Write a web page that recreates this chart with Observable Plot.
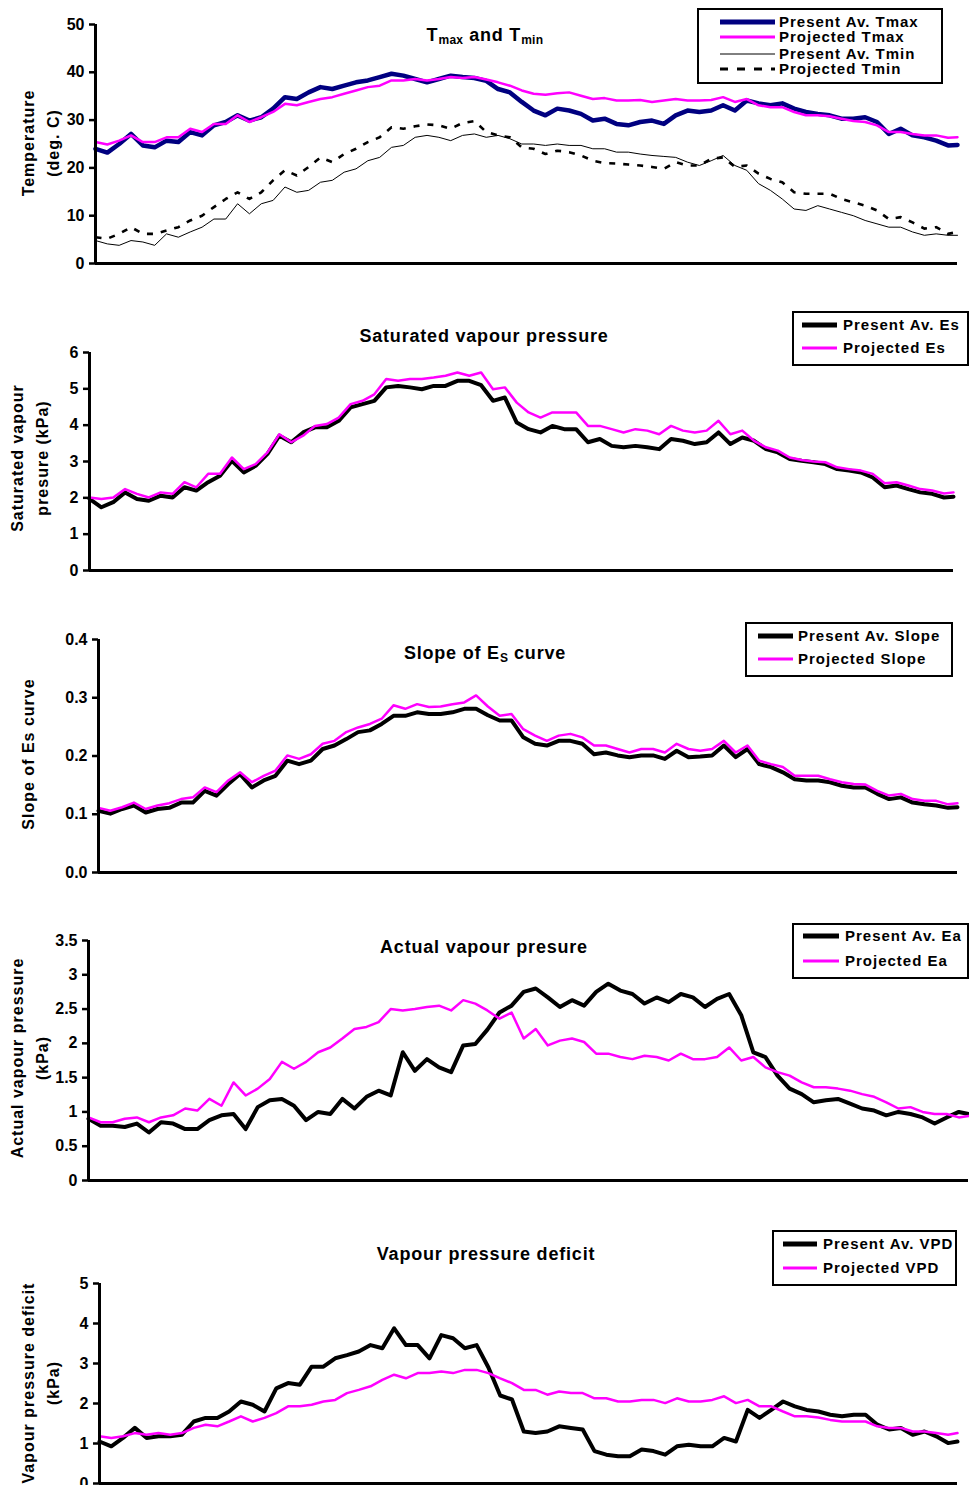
<!DOCTYPE html>
<html><head><meta charset="utf-8">
<script src="https://cdn.jsdelivr.net/npm/d3@7"></script>
<script src="https://cdn.jsdelivr.net/npm/@observablehq/plot@0.6"></script>
<style>
html,body{margin:0;padding:0;background:#fff;overflow:hidden;}
body{font-family:"Liberation Sans",Arial,sans-serif;color:#000;}
#root{position:relative;width:969px;height:1485px;overflow:hidden;}
.title{position:absolute;font-weight:bold;font-size:18px;letter-spacing:0.8px;line-height:22px;transform:translateX(-50%);white-space:nowrap;}
.title sub{font-size:12px;vertical-align:-3px;letter-spacing:0.3px;}
.ylab{position:absolute;font-weight:bold;font-size:16px;letter-spacing:1px;line-height:25px;text-align:center;white-space:nowrap;transform:translate(-50%,-50%) rotate(-90deg);}
.legend{position:absolute;border:2px solid #000;background:#fff;box-sizing:border-box;}
.legend .lab{position:absolute;font-weight:bold;font-size:15px;letter-spacing:1px;line-height:16px;white-space:nowrap;transform:translateY(-50%);}
.legend svg{position:absolute;overflow:visible;}
g[aria-label="y-axis tick"] path, g[aria-label="y-axis"] line{stroke-width:2.5px;}
</style></head><body><div id="root"></div>
<script>
// day of year for each reading
const days = [1,6,11,16,21,26,31,36,41,46,51,56,61,66,71,76,81,86,91,96,101,106,111,116,121,126,131,136,141,146,151,156,161,166,171,176,181,186,191,196,201,206,211,216,221,226,231,236,241,246,251,256,261,266,271,276,281,286,291,296,301,306,311,316,321,326,331,336,341,346,351,356,361,365];

// Panel 1: temperature (deg C)
const tmaxPresent = [24.0,23.2,25.0,27.1,24.7,24.3,25.7,25.4,27.5,26.8, 28.9,29.6,31.0,29.9,30.6,32.4,34.8,34.4,35.8,36.9, 36.5,37.2,37.9,38.3,39.0,39.7,39.3,38.6,37.9,38.6, 39.3,39.0,38.8,38.2,36.5,35.8,33.8,32.0,31.0,32.4, 32.0,31.3,29.9,30.3,29.2,28.9,29.6,29.9,29.2,31.0, 32.0,31.7,32.0,33.1,32.0,34.1,33.5,33.1,33.5,32.4, 31.7,31.3,31.0,30.3,30.3,30.6,29.6,27.1,28.2,26.8, 26.4,25.7,24.7,24.8];
const tmaxProjected = [25.4,24.9,25.7,26.8,25.4,25.4,26.4,26.4,28.2,27.5, 29.2,29.2,31.0,29.6,30.6,31.7,33.4,33.1,33.8,34.4, 34.8,35.5,36.2,36.9,37.2,38.3,38.3,38.6,38.3,38.6, 39.0,38.8,39.0,38.5,37.9,37.2,36.2,35.5,35.3,35.6, 35.8,35.1,34.4,34.6,34.1,34.1,34.2,33.8,34.1,34.4, 34.1,34.1,34.2,34.8,33.8,34.4,33.1,32.7,32.7,31.7, 31.0,31.0,30.8,30.3,29.8,29.6,28.9,27.5,27.5,27.1, 26.8,26.8,26.3,26.4];
const tminPresent = [4.8,4.1,3.8,4.8,4.5,3.8,6.2,5.5,6.6,7.6, 9.3,9.3,12.5,10.4,12.5,13.2,16.0,14.9,15.3,17.0, 17.4,19.1,19.8,21.5,22.2,24.3,24.7,26.4,26.8,26.4, 25.7,26.8,27.1,26.4,26.8,26.1,25.0,25.0,24.7,25.0, 24.7,24.7,24.0,24.0,23.3,23.3,22.9,22.6,22.4,22.2, 21.2,20.5,21.5,22.6,20.5,19.5,16.7,15.3,13.5,11.4, 11.1,12.1,11.4,10.7,10.0,9.0,8.3,7.6,7.6,6.6, 5.9,6.2,5.9,5.9];
const tminProjected = [5.5,5.2,6.2,7.6,6.2,6.2,6.9,7.6,9.0,10.0, 11.8,13.5,14.9,13.5,14.9,17.4,19.5,18.4,20.2,22.2, 21.2,22.9,24.0,25.4,26.4,28.5,28.2,28.7,29.1,28.9, 28.2,29.4,29.8,27.5,26.8,26.4,24.3,24.0,22.9,23.6, 23.3,22.6,21.5,21.0,20.9,20.7,20.5,20.2,19.8,21.2, 20.5,20.5,21.9,22.2,20.2,20.5,18.8,17.7,17.0,14.9, 14.6,14.6,14.6,13.5,12.8,12.1,11.1,9.3,9.7,8.6, 7.3,7.6,6.2,6.6];

// Panel 2: saturated vapour pressure (kPa)
const esPresent = [1.97,1.74,1.88,2.15,1.97,1.92,2.06,2.01,2.29,2.20, 2.43,2.61,3.02,2.70,2.88,3.21,3.71,3.53,3.80,3.94, 3.94,4.12,4.49,4.58,4.67,5.04,5.08,5.04,4.99,5.08, 5.08,5.22,5.22,5.10,4.67,4.76,4.07,3.89,3.80,3.98, 3.89,3.89,3.53,3.62,3.43,3.39,3.43,3.39,3.34,3.62, 3.57,3.48,3.53,3.80,3.48,3.66,3.57,3.34,3.25,3.07, 3.02,2.98,2.93,2.79,2.75,2.70,2.56,2.29,2.34,2.24, 2.15,2.11,2.01,2.03];
const esProjected = [2.01,1.97,2.01,2.24,2.11,2.01,2.15,2.11,2.43,2.29, 2.66,2.66,3.11,2.79,2.93,3.25,3.75,3.53,3.71,3.98, 4.03,4.21,4.58,4.67,4.85,5.27,5.22,5.27,5.27,5.31, 5.36,5.45,5.36,5.45,4.99,5.04,4.62,4.35,4.21,4.35, 4.35,4.35,3.98,3.98,3.89,3.80,3.89,3.85,3.75,3.98, 3.85,3.80,3.85,4.12,3.75,3.85,3.57,3.39,3.30,3.11, 3.04,3.00,2.98,2.84,2.79,2.75,2.66,2.40,2.43,2.34, 2.24,2.20,2.12,2.15];

// Panel 3: slope of Es curve
const slopePresent = [.106,.101,.109,.115,.103,.109,.111,.120,.120,.140, .132,.152,.169,.146,.158,.166,.192,.186,.192,.212, .218,.229,.241,.244,.255,.269,.269,.275,.272,.272, .275,.281,.281,.270,.261,.261,.232,.221,.218,.226, .226,.221,.203,.206,.201,.198,.201,.201,.195,.209, .198,.199,.201,.218,.198,.212,.186,.181,.172,.160, .158,.158,.155,.149,.146,.146,.135,.126,.129,.120, .117,.115,.111,.112];
const slopeProjected = [.111,.106,.112,.120,.109,.115,.119,.126,.129,.146, .138,.158,.172,.155,.166,.175,.201,.195,.203,.221, .226,.241,.249,.255,.264,.287,.281,.289,.284,.285, .289,.292,.304,.285,.269,.272,.246,.235,.226,.235, .238,.232,.218,.218,.212,.206,.212,.212,.206,.221, .212,.209,.212,.226,.206,.218,.192,.186,.181,.166, .166,.166,.160,.155,.152,.151,.140,.132,.135,.126, .123,.123,.117,.119];

// Panel 4: actual vapour pressure (kPa)
const eaPresent = [0.90,0.80,0.80,0.78,0.83,0.70,0.85,0.83,0.75,0.75, 0.88,0.95,0.97,0.75,1.07,1.17,1.19,1.09,0.88,1.00, 0.97,1.19,1.05,1.22,1.31,1.24,1.87,1.60,1.77,1.65, 1.58,1.97,1.99,2.20,2.45,2.55,2.75,2.80,2.67,2.53, 2.63,2.55,2.75,2.87,2.77,2.72,2.58,2.67,2.60,2.72, 2.67,2.53,2.65,2.72,2.41,1.87,1.80,1.53,1.34,1.26, 1.14,1.17,1.19,1.12,1.05,1.02,0.95,1.00,0.97,0.92, 0.83,0.92,1.00,0.97];
const eaProjected = [0.92,0.85,0.85,0.90,0.92,0.85,0.92,0.95,1.05,1.02, 1.19,1.09,1.43,1.24,1.34,1.48,1.73,1.63,1.73,1.87, 1.94,2.07,2.21,2.24,2.31,2.50,2.48,2.50,2.53,2.55, 2.48,2.63,2.58,2.48,2.36,2.45,2.07,2.21,1.97,2.04, 2.07,2.02,1.85,1.85,1.80,1.77,1.82,1.80,1.75,1.85, 1.77,1.77,1.80,1.94,1.75,1.80,1.65,1.58,1.53,1.43, 1.36,1.36,1.34,1.31,1.26,1.22,1.14,1.05,1.07,1.00, 0.97,0.97,0.92,0.94];

// Panel 5: vapour pressure deficit (kPa)
const vpdPresent = [1.05,0.93,1.14,1.39,1.14,1.18,1.18,1.22,1.55,1.64, 1.64,1.80,2.05,1.97,1.80,2.38,2.51,2.47,2.92,2.92, 3.13,3.21,3.30,3.46,3.38,3.88,3.46,3.46,3.13,3.71, 3.63,3.38,3.46,2.90,2.20,2.10,1.30,1.26,1.30,1.43, 1.39,1.35,0.81,0.72,0.68,0.68,0.85,0.81,0.72,0.93, 0.97,0.93,0.93,1.14,1.05,1.84,1.64,1.84,2.05,1.93, 1.84,1.80,1.72,1.68,1.72,1.72,1.47,1.35,1.39,1.22, 1.30,1.18,1.01,1.05];
const vpdProjected = [1.18,1.14,1.18,1.26,1.22,1.26,1.22,1.26,1.39,1.47, 1.43,1.55,1.68,1.55,1.64,1.76,1.93,1.93,1.97,2.05, 2.09,2.26,2.34,2.43,2.59,2.72,2.63,2.76,2.76,2.80, 2.76,2.84,2.84,2.76,2.63,2.51,2.34,2.34,2.22,2.30, 2.26,2.26,2.13,2.13,2.05,2.05,2.09,2.09,2.01,2.13, 2.05,2.05,2.09,2.18,2.01,2.09,1.93,1.93,1.80,1.68, 1.68,1.65,1.59,1.55,1.55,1.55,1.43,1.39,1.39,1.30, 1.30,1.26,1.22,1.26];

// Tick values
const tempTicks = [0,10,20,30,40,50];
const esTicks = [0,1,2,3,4,5,6];
const slopeTicks = [0,0.1,0.2,0.3,0.4];
const eaTicks = [0,0.5,1,1.5,2,2.5,3,3.5];
const vpdTicks = [0,1,2,3,4,5];

// Labels
const titles = ["T<sub>max</sub> and T<sub>min</sub>", "Saturated vapour pressure", "Slope of E<sub>S</sub> curve", "Actual vapour presure", "Vapour pressure deficit"];
const yLabels = [["Temperature","(deg. C)"],["Saturated vapour","presure (kPa)"],["Slope of Es curve"],["Actual vapour pressure","(kPa)"],["Vapour pressure deficit","(kPa)"]];
const legendLabels = [["Present Av. Tmax","Projected Tmax","Present Av. Tmin","Projected Tmin"],["Present Av. Es","Projected  Es"],["Present Av. Slope","Projected Slope"],["Present Av. Ea","Projected Ea"],["Present Av. VPD","Projected VPD"]];

const root = document.getElementById("root");
const NAVY = "#000080", MAG = "#ff00ff", BLK = "#000000";

function rows(vals){ return days.map((d,i)=>({day:d, v:vals[i]})); }

function addPanel(cfg){
  const mt = 10, mb = 8;
  const h = cfg.yBot - cfg.yTop + mt + mb;
  const marks = cfg.series.map(s => Plot.line(rows(s.values), {
    x:"day", y:"v", stroke:s.color, strokeWidth:s.width,
    strokeDasharray:s.dash, strokeLinejoin:"round", strokeLinecap: s.dash ? "butt" : "round"
  }));
  marks.push(Plot.ruleY([cfg.ticks[0]], {strokeWidth:3}));
  marks.push(Plot.ruleX([days[0]], {strokeWidth:3}));
  const svg = Plot.plot({
    width:969, height:h,
    marginLeft:cfg.xL, marginRight:969-cfg.xR, marginTop:mt, marginBottom:mb,
    x:{domain:[days[0], days[days.length-1]], axis:null},
    y:{domain:[cfg.ticks[0], cfg.ticks[cfg.ticks.length-1]], ticks:cfg.ticks, tickFormat:cfg.fmt, label:null, tickSize:6, tickPadding:5},
    style:{fontFamily:"Liberation Sans, Arial, sans-serif", fontSize:"16px", fontWeight:"bold", color:"#000", background:"transparent", overflow:"visible"},
    marks
  });
  svg.style.position = "absolute";
  svg.style.left = "0px";
  svg.style.top = (cfg.yTop - mt) + "px";
  root.appendChild(svg);
}

function addTitle(html, cx, cy){
  const d = document.createElement("div");
  d.className = "title"; d.innerHTML = html;
  d.style.left = cx + "px"; d.style.top = (cy - 11) + "px";
  root.appendChild(d);
}
function addYLabel(lines, cx, cy){
  const d = document.createElement("div");
  d.className = "ylab"; d.innerHTML = lines.join("<br>");
  d.style.left = cx + "px"; d.style.top = cy + "px";
  root.appendChild(d);
}
function addLegend(cfg){
  const b = document.createElement("div");
  b.className = "legend";
  Object.assign(b.style, {left:cfg.left+"px", top:cfg.top+"px", width:cfg.w+"px", height:cfg.h+"px"});
  cfg.items.forEach((it, i) => {
    const y = cfg.rowsY[i];
    const len = cfg.swX2 - cfg.swX1;
    const sv = `<svg style="left:${cfg.swX1}px;top:${y-5}px" width="${len}" height="10"><line x1="0" y1="5" x2="${len}" y2="5" stroke="${it.color}" stroke-width="${it.width}" ${it.dash ? `stroke-dasharray="${it.dash}"` : ""}/></svg>`;
    b.insertAdjacentHTML("beforeend", sv + `<div class="lab" style="left:${cfg.textX}px;top:${y}px">${it.label}</div>`);
  });
  root.appendChild(b);
}

// Panel 1
addPanel({yTop:24, yBot:263, xL:95, xR:957, ticks:tempTicks, fmt:d3.format("d"), series:[
  {values:tminPresent, color:BLK, width:1},
  {values:tminProjected, color:BLK, width:2.6, dash:"6,8"},
  {values:tmaxPresent, color:NAVY, width:4.5},
  {values:tmaxProjected, color:MAG, width:2.5}
]});
// Panel 2
addPanel({yTop:352, yBot:570, xL:89, xR:953, ticks:esTicks, fmt:d3.format("d"), series:[
  {values:esPresent, color:BLK, width:4},
  {values:esProjected, color:MAG, width:2.5}
]});
// Panel 3
addPanel({yTop:639, yBot:872, xL:98, xR:957, ticks:slopeTicks, fmt:d3.format(".1f"), series:[
  {values:slopePresent, color:BLK, width:4},
  {values:slopeProjected, color:MAG, width:2.5}
]});
// Panel 4
addPanel({yTop:940, yBot:1180, xL:88, xR:968, ticks:eaTicks, fmt:d => String(d), series:[
  {values:eaPresent, color:BLK, width:4},
  {values:eaProjected, color:MAG, width:2.5}
]});
// Panel 5
addPanel({yTop:1283, yBot:1483, xL:99, xR:957, ticks:vpdTicks, fmt:d3.format("d"), series:[
  {values:vpdPresent, color:BLK, width:4},
  {values:vpdProjected, color:MAG, width:2.5}
]});

addTitle(titles[0], 485, 35);
addTitle(titles[1], 484, 336);
addTitle(titles[2], 485, 653);
addTitle(titles[3], 484, 947);
addTitle(titles[4], 486, 1254);

addYLabel(yLabels[0], 41, 143);
addYLabel(yLabels[1], 30, 458);
addYLabel(yLabels[2], 28, 754);
addYLabel(yLabels[3], 30, 1058);
addYLabel(yLabels[4], 41, 1383);

addLegend({left:697, top:8, w:246, h:76, swX1:21, swX2:76, textX:80, rowsY:[12,27,44,59], items:[
  {label:legendLabels[0][0], color:NAVY, width:5},
  {label:legendLabels[0][1], color:MAG, width:3},
  {label:legendLabels[0][2], color:BLK, width:1},
  {label:legendLabels[0][3], color:BLK, width:3, dash:"8,9"}
]});
addLegend({left:792, top:311, w:177, h:55, swX1:8, swX2:43, textX:49, rowsY:[12,35], items:[
  {label:legendLabels[1][0], color:BLK, width:5},
  {label:legendLabels[1][1], color:MAG, width:3}
]});
addLegend({left:745, top:622, w:208, h:55, swX1:11, swX2:46, textX:51, rowsY:[12,35], items:[
  {label:legendLabels[2][0], color:BLK, width:5},
  {label:legendLabels[2][1], color:MAG, width:3}
]});
addLegend({left:792, top:923, w:177, h:56, swX1:9, swX2:45, textX:51, rowsY:[11,36], items:[
  {label:legendLabels[3][0], color:BLK, width:5},
  {label:legendLabels[3][1], color:MAG, width:3}
]});
addLegend({left:772, top:1230, w:185, h:56, swX1:9, swX2:43, textX:49, rowsY:[12,36], items:[
  {label:legendLabels[4][0], color:BLK, width:5},
  {label:legendLabels[4][1], color:MAG, width:3}
]});
</script></body></html>
